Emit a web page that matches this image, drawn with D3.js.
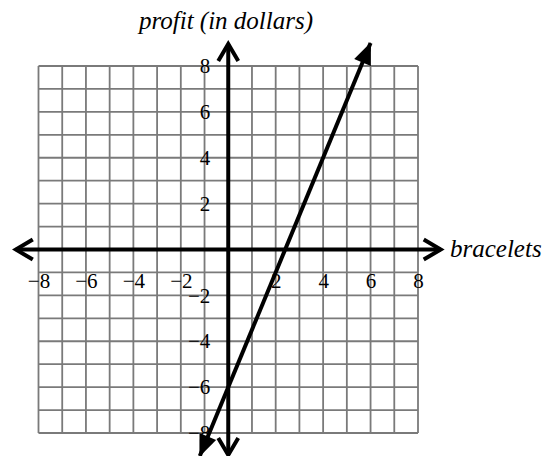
<!DOCTYPE html>
<html>
<head>
<meta charset="utf-8">
<script src="https://cdn.jsdelivr.net/npm/d3@7"></script>
<style>
  body { margin: 0; background: #fff; }
</style>
</head>
<body>
<svg></svg>
<script>
const width = 555;
const height = 456;
const serif = "'Liberation Serif', 'Times New Roman', serif";

// data
const gridValues = [-8, -7, -6, -5, -4, -3, -2, -1, 0, 1, 2, 3, 4, 5, 6, 7, 8];
const xTicks = [-8, -6, -4, -2, 2, 4, 6, 8];
const yTicks = [-8, -6, -4, -2, 2, 4, 6, 8];
const axisExtent = [-9, 9];
const profitLine = [[-1.2, -9], [6, 9]];   // bracelets, profit
const xTitle = "bracelets";
const yTitle = "profit (in dollars)";

const svg = d3.select("svg")
  .attr("width", width)
  .attr("height", height);

const x = d3.scaleLinear().domain([-8, 8]).range([38.5, 418]);
const y = d3.scaleLinear().domain([-8, 8]).range([433, 66]);

const defs = svg.append("defs");
// open chevron for the axes
defs.append("marker")
  .attr("id", "chev")
  .attr("markerUnits", "userSpaceOnUse")
  .attr("viewBox", "-22 -13 26 26")
  .attr("markerWidth", 26).attr("markerHeight", 26)
  .attr("refX", 0).attr("refY", 0)
  .attr("orient", "auto-start-reverse")
  .append("path")
  .attr("d", "M-17,-10 L0,0 L-17,10")
  .attr("fill", "none")
  .attr("stroke", "#000")
  .attr("stroke-width", 4)
  .attr("stroke-linejoin", "miter");
// solid head for the line
defs.append("marker")
  .attr("id", "tri")
  .attr("markerUnits", "userSpaceOnUse")
  .attr("viewBox", "-22 -11 24 22")
  .attr("markerWidth", 24).attr("markerHeight", 22)
  .attr("refX", 0).attr("refY", 0)
  .attr("orient", "auto-start-reverse")
  .append("path")
  .attr("d", "M-21,-9 L1,0 L-21,9 Z")
  .attr("fill", "#000");

// grid
const grid = svg.append("g").attr("class", "grid")
  .attr("stroke", "#7a7a7a")
  .attr("stroke-width", 1.8);

grid.selectAll("line.v")
  .data(gridValues)
  .enter().append("line")
  .attr("class", "v")
  .attr("x1", d => x(d)).attr("x2", d => x(d))
  .attr("y1", y(8)).attr("y2", y(-8));

grid.selectAll("line.h")
  .data(gridValues)
  .enter().append("line")
  .attr("class", "h")
  .attr("y1", d => y(d)).attr("y2", d => y(d))
  .attr("x1", x(-8)).attr("x2", x(8));

const fmt = d => d < 0 ? "\u2212" + Math.abs(d) : String(d);

// tick labels
const xLab = svg.append("g")
  .attr("transform", "translate(0," + y(0) + ")")
  .call(d3.axisBottom(x).tickValues(xTicks).tickSize(0).tickPadding(24).tickFormat(fmt));
xLab.select(".domain").remove();
xLab.selectAll("text")
  .style("font-family", serif)
  .style("font-size", "21px")
  .attr("fill", "#000");

const yLab = svg.append("g")
  .attr("transform", "translate(" + x(0) + ",0)")
  .call(d3.axisLeft(y).tickValues(yTicks).tickSize(0).tickPadding(18).tickFormat(fmt));
yLab.select(".domain").remove();
yLab.selectAll("text")
  .style("font-family", serif)
  .style("font-size", "21px")
  .attr("fill", "#000");

// axes with arrows
svg.append("line")
  .attr("x1", x(axisExtent[0]) + 1).attr("x2", x(axisExtent[1]) - 1)
  .attr("y1", y(0)).attr("y2", y(0))
  .attr("stroke", "#000").attr("stroke-width", 4)
  .attr("marker-start", "url(#chev)")
  .attr("marker-end", "url(#chev)");

svg.append("line")
  .attr("x1", x(0)).attr("x2", x(0))
  .attr("y1", y(axisExtent[1]) + 1).attr("y2", y(axisExtent[0]) - 1)
  .attr("stroke", "#000").attr("stroke-width", 4)
  .attr("marker-start", "url(#chev)")
  .attr("marker-end", "url(#chev)");

// profit line
svg.append("path")
  .datum(profitLine)
  .attr("d", d3.line().x(d => x(d[0])).y(d => y(d[1])))
  .attr("fill", "none")
  .attr("stroke", "#000")
  .attr("stroke-width", 4)
  .attr("marker-start", "url(#tri)")
  .attr("marker-end", "url(#tri)");

// titles
svg.append("text")
  .attr("x", 226).attr("y", 29)
  .attr("text-anchor", "middle")
  .style("font-family", serif)
  .style("font-style", "italic")
  .style("font-size", "25px")
  .text(yTitle);

svg.append("text")
  .attr("x", 450).attr("y", 257)
  .style("font-family", serif)
  .style("font-style", "italic")
  .style("font-size", "25px")
  .text(xTitle);
</script>
</body>
</html>
